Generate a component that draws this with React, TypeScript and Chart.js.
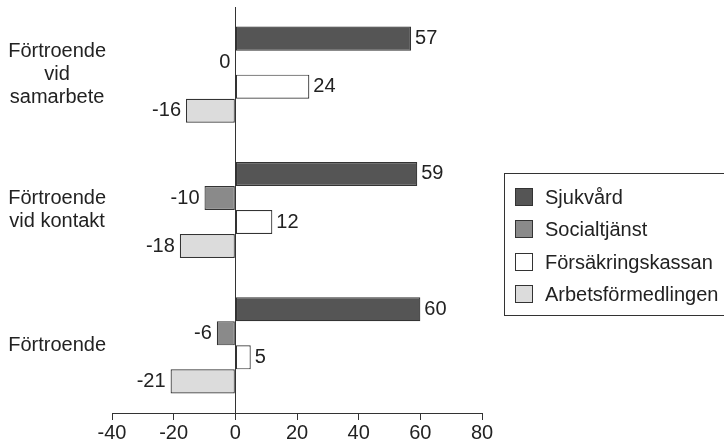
import React, { useEffect, useRef } from 'react';
import { Chart, registerables } from 'chart.js';

Chart.register(...registerables);

const categories: string[][] = [
  ['Förtroende', 'vid', 'samarbete'],
  ['Förtroende', 'vid kontakt'],
  ['Förtroende'],
];
const seriesNames = ['Sjukvård', 'Socialtjänst', 'Försäkringskassan', 'Arbetsförmedlingen'];
const sjukvard = [57, 59, 60];
const socialtjanst = [0, -10, -6];
const forsakringskassan = [24, 12, 5];
const arbetsformedlingen = [-16, -18, -21];
const xMin = -40;
const xMax = 80;
const xStep = 20;

const FONT_FAMILY = "'Liberation Sans', Arial, Helvetica, sans-serif";
const TEXT = '#222222';
const EDGE = '#333333';
const fills = ['#555555', '#8a8a8a', '#ffffff', '#dcdcdc'];

const valueLabels = {
  id: 'valueLabels',
  afterDatasetsDraw(chart: any) {
    const ctx = chart.ctx;
    ctx.save();
    ctx.font = `20px ${FONT_FAMILY}`;
    ctx.fillStyle = TEXT;
    ctx.textBaseline = 'middle';
    chart.data.datasets.forEach((ds: any, di: number) => {
      const meta = chart.getDatasetMeta(di);
      meta.data.forEach((el: any, i: number) => {
        const v = ds.data[i];
        if (v > 0) {
          ctx.textAlign = 'left';
          ctx.fillText(String(v), el.x + 4, el.y);
        } else {
          ctx.textAlign = 'right';
          ctx.fillText(String(v), el.x - 5, el.y);
        }
      });
    });
    ctx.restore();
  },
};

const boxLegend = {
  id: 'boxLegend',
  afterDraw(chart: any) {
    const ctx = chart.ctx;
    ctx.save();
    ctx.strokeStyle = EDGE;
    ctx.lineWidth = 1;
    ctx.strokeRect(504.5, 173.5, 240, 142);
    ctx.font = `20px ${FONT_FAMILY}`;
    ctx.textBaseline = 'middle';
    ctx.textAlign = 'left';
    chart.data.datasets.forEach((ds: any, i: number) => {
      const cy = Math.round(197 + i * 32.3);
      ctx.fillStyle = ds.backgroundColor;
      ctx.fillRect(515.5, cy - 8.5, 17, 17);
      ctx.strokeStyle = EDGE;
      ctx.strokeRect(515.5, cy - 8.5, 17, 17);
      ctx.fillStyle = TEXT;
      ctx.fillText(ds.label, 545, cy + 1);
    });
    ctx.restore();
  },
};

export default function App() {
  const ref = useRef<HTMLCanvasElement | null>(null);
  useEffect(() => {
    if (!ref.current) return;
    const series = [sjukvard, socialtjanst, forsakringskassan, arbetsformedlingen];
    const chart = new Chart(ref.current, {
      type: 'bar',
      data: {
        labels: categories,
        datasets: series.map((d, i) => ({
          label: seriesNames[i],
          data: d,
          backgroundColor: fills[i],
          borderColor: EDGE,
          borderWidth: 1.2,
          borderSkipped: false,
          barPercentage: 1,
          categoryPercentage: 0.71,
        })),
      },
      options: {
        indexAxis: 'y',
        responsive: false,
        animation: false,
        devicePixelRatio: 1,
        layout: { padding: { top: 7, right: 242, left: 0, bottom: 0 } },
        plugins: {
          legend: { display: false },
          tooltip: { enabled: false },
        },
        scales: {
          x: {
            min: xMin,
            max: xMax,
            ticks: {
              stepSize: xStep,
              color: TEXT,
              font: { size: 20, family: FONT_FAMILY },
              padding: 1,
            },
            grid: {
              color: (c: any) => (c.tick && c.tick.value === 0 ? EDGE : 'rgba(0,0,0,0)'),
              tickColor: EDGE,
              tickLength: 7,
              lineWidth: 1,
            },
            border: { display: true, color: EDGE, width: 1 },
            afterFit: (s: any) => {
              s.height = 29;
            },
          },
          y: {
            ticks: {
              color: TEXT,
              font: { size: 20, family: FONT_FAMILY, lineHeight: 1.15 },
              crossAlign: 'center',
              padding: 6,
            },
            grid: { display: false, drawTicks: false },
            border: { display: false },
            afterFit: (s: any) => {
              s.width = 112;
              s.paddingTop = 0;
              s.paddingBottom = 0;
            },
          },
        },
      },
      plugins: [valueLabels, boxLegend],
    } as any);
    return () => chart.destroy();
  }, []);
  return (
    <div style={{ position: 'absolute', left: 0, top: 0, width: 724, height: 442, background: '#fff' }}>
      <canvas ref={ref} width={724} height={442} />
    </div>
  );
}
